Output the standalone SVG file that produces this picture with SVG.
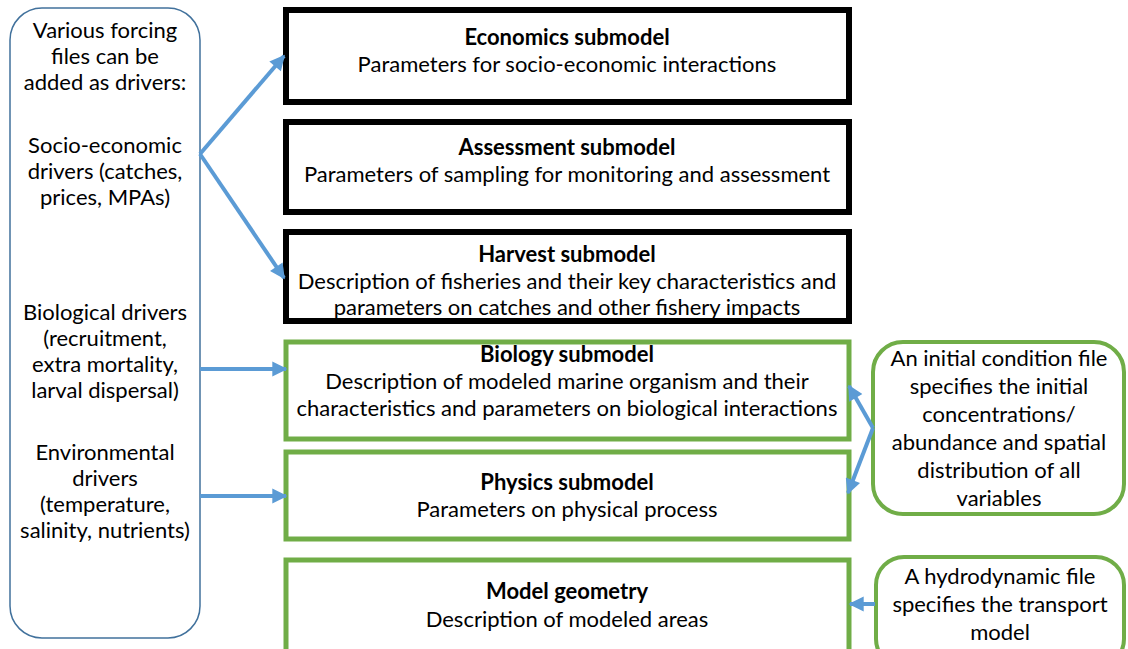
<svg xmlns="http://www.w3.org/2000/svg" width="1128" height="649" viewBox="0 0 1128 649">
  <defs>
    <style>
      text { font-family: Lato, "Liberation Sans", sans-serif; font-size: 22px; fill: #000; text-anchor: middle; }
      .title { font-weight: bold; }
      .black { fill: #fff; stroke: #000; stroke-width: 6; }
      .green { fill: #fff; stroke: #70ad47; stroke-width: 5; }
      .driver { fill: #fff; stroke: #41719c; stroke-width: 1.5; }
      .rgreen { fill: #fff; stroke: #70ad47; stroke-width: 4; }
      .conn { fill: none; stroke: #5b9bd5; stroke-width: 4; marker-end: url(#head); }
    </style>
    <marker id="head" viewBox="0 0 10 10" refX="9" refY="5" markerWidth="4.2" markerHeight="3.8" orient="auto" markerUnits="strokeWidth">
      <path d="M0,0 L10,5 L0,10 z" fill="#5b9bd5"/>
    </marker>
  </defs>
  <rect width="1128" height="649" fill="#fff"/>

  <!-- forcing drivers panel -->
  <g id="drivers">
    <rect class="driver" x="10" y="8" width="190" height="630" rx="32"/>
    <text x="105" y="38">Various forcing</text>
    <text x="105" y="64">files can be</text>
    <text x="105" y="90">added as drivers:</text>
    <text x="105" y="153">Socio-economic</text>
    <text x="105" y="179">drivers (catches,</text>
    <text x="105" y="205">prices, MPAs)</text>
    <text x="105" y="320">Biological drivers</text>
    <text x="105" y="346">(recruitment,</text>
    <text x="105" y="372">extra mortality,</text>
    <text x="105" y="398">larval dispersal)</text>
    <text x="105" y="460">Environmental</text>
    <text x="105" y="486">drivers</text>
    <text x="105" y="512">(temperature,</text>
    <text x="105" y="538">salinity, nutrients)</text>
  </g>

  <!-- submodels -->
  <g id="economics">
    <rect class="black" x="286" y="10" width="563" height="92"/>
    <text class="title" x="567" y="45">Economics submodel</text>
    <text x="567" y="72">Parameters for socio-economic interactions</text>
  </g>
  <g id="assessment">
    <rect class="black" x="286" y="122" width="563" height="90"/>
    <text class="title" x="567" y="155">Assessment submodel</text>
    <text x="567" y="182">Parameters of sampling for monitoring and assessment</text>
  </g>
  <g id="harvest">
    <rect class="black" x="286" y="232" width="563" height="89"/>
    <text class="title" x="567" y="262">Harvest submodel</text>
    <text x="567" y="289">Description of fisheries and their key characteristics and</text>
    <text x="567" y="315">parameters on catches and other fishery impacts</text>
  </g>
  <g id="biology">
    <rect class="green" x="286" y="342" width="563" height="97"/>
    <text class="title" x="567" y="362">Biology submodel</text>
    <text x="567" y="389">Description of modeled marine organism and their</text>
    <text x="567" y="416">characteristics and parameters on biological interactions</text>
  </g>
  <g id="physics">
    <rect class="green" x="286" y="452" width="563" height="87"/>
    <text class="title" x="567" y="490">Physics submodel</text>
    <text x="567" y="517">Parameters on physical process</text>
  </g>
  <g id="geometry">
    <rect class="green" x="286" y="560" width="563" height="100"/>
    <text class="title" x="567" y="599">Model geometry</text>
    <text x="567" y="627">Description of modeled areas</text>
  </g>

  <!-- input files -->
  <g id="initial-condition">
    <rect class="rgreen" x="873" y="342" width="251" height="172" rx="30"/>
    <text x="999" y="366">An initial condition file</text>
    <text x="999" y="394">specifies the initial</text>
    <text x="999" y="422">concentrations/</text>
    <text x="999" y="450">abundance and spatial</text>
    <text x="999" y="478">distribution of all</text>
    <text x="999" y="506">variables</text>
  </g>
  <g id="hydrodynamic">
    <rect class="rgreen" x="876" y="557" width="248" height="110" rx="28"/>
    <text x="1000" y="584">A hydrodynamic file</text>
    <text x="1000" y="612">specifies the transport</text>
    <text x="1000" y="640">model</text>
  </g>

  <!-- connectors -->
  <g id="connectors">
    <line class="conn" x1="200" y1="154" x2="284" y2="56"/>
    <line class="conn" x1="200" y1="154" x2="284" y2="278"/>
    <line class="conn" x1="200" y1="369" x2="286" y2="369"/>
    <line class="conn" x1="200" y1="496" x2="286" y2="496"/>
    <line class="conn" x1="873" y1="428" x2="849" y2="386"/>
    <line class="conn" x1="873" y1="428" x2="848" y2="493"/>
    <line class="conn" x1="875" y1="604" x2="850" y2="604"/>
  </g>
</svg>
